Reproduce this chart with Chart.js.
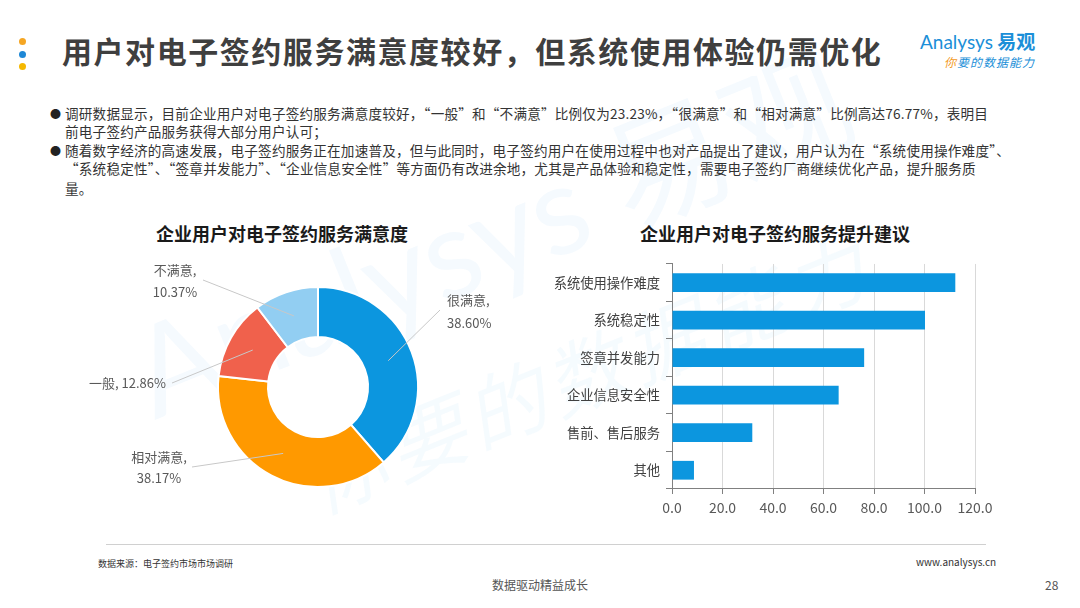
<!DOCTYPE html>
<html>
<head>
<meta charset="utf-8">
<script src="https://cdn.jsdelivr.net/npm/chart.js@4.4.1/dist/chart.umd.min.js"></script>
<style>
  html, body { margin: 0; padding: 0; background: #fff; }
  body { width: 1080px; height: 608px; position: relative; overflow: hidden;
         font-family: "Noto Sans CJK SC", "Noto Sans", sans-serif; color: #333; }
  .abs { position: absolute; white-space: nowrap; }
  .dot { position: absolute; width: 7px; height: 7px; border-radius: 50%; left: 19px; }
  #title { left: 62px; top: 30px; font-size: 30px; font-weight: bold; color: #3f3f3f; letter-spacing: 1.55px; line-height: 40px; }
  .logo1 { left: 920px; top: 28px; font-size: 19px; color: #1b8fd8; line-height: 26px; }
  .logo2 { left: 944px; top: 53px; font-size: 12px; color: #1b8fd8; font-style: italic; letter-spacing: 1px; line-height: 18px; }
  .body { left: 65px; font-size: 13.6px; color: #333; line-height: 19px; letter-spacing: 0.2px; }
  .bullet { left: 50px; font-size: 11px; color: #222; line-height: 19px; }
  .ctitle { font-size: 18px; font-weight: bold; color: #1a1a1a; transform: translateX(-50%); line-height: 24px; }
  #wm { left: 110px; top: 310px; font-size: 125px; color: rgba(12,150,223,0.045);
        transform: rotate(-22deg); transform-origin: left top; line-height: 130px; font-family: Lato, sans-serif; }
  #wm2 { left: 290px; top: 440px; font-size: 80px; color: rgba(12,150,223,0.04);
        transform: rotate(-22deg); transform-origin: left top; line-height: 90px; font-style: italic; letter-spacing: 6px; }
  .foot { font-size: 9px; color: #333; }
</style>
</head>
<body>
<div id="wm" class="abs">Analysys <span style="font-family:'Noto Sans CJK SC'">易观</span></div>
<div id="wm2" class="abs">你要的数据能力</div>

<div class="dot" style="top:38px;background:#f5a623"></div>
<div class="dot" style="top:51px;background:#1e88d6"></div>
<div class="dot" style="top:63px;background:#f5b800"></div>
<div id="title" class="abs">用户对电子签约服务满意度较好，但系统使用体验仍需优化</div>
<div class="abs logo1"><span style="font-family:Lato,sans-serif">Analysys</span> <b>易观</b></div>
<div class="abs logo2"><span style="color:#f39a1e">你</span>要的数据能力</div>

<div class="abs bullet" style="top:104px">●</div>
<div class="abs body" style="top:104px">调研数据显示，目前企业用户对电子签约服务满意度较好，“一般”和“不满意”比例仅为23.23%，“很满意”和“相对满意”比例高达76.77%，表明目</div>
<div class="abs body" style="top:122px">前电子签约产品服务获得大部分用户认可；</div>
<div class="abs bullet" style="top:141px">●</div>
<div class="abs body" style="top:141px">随着数字经济的高速发展，电子签约服务正在加速普及，但与此同时，电子签约用户在使用过程中也对产品提出了建议，用户认为在“系统使用操作难度”、</div>
<div class="abs body" style="top:159px">“系统稳定性”、“签章并发能力”、“企业信息安全性”等方面仍有改进余地，尤其是产品体验和稳定性，需要电子签约厂商继续优化产品，提升服务质</div>
<div class="abs body" style="top:179px">量。</div>

<div class="abs ctitle" style="left:282px;top:221px">企业用户对电子签约服务满意度</div>
<div class="abs ctitle" style="left:775px;top:221px">企业用户对电子签约服务提升建议</div>

<div class="abs" style="left:60px;top:255px;width:470px;height:260px"><canvas id="pie"></canvas></div>
<div class="abs" style="left:530px;top:250px;width:480px;height:270px"><canvas id="bar"></canvas></div>

<div class="abs" style="left:106px;top:544px;width:880px;height:1px;background:#d0d0d0"></div>
<div class="abs foot" style="left:98px;top:557px">数据来源：电子签约市场市场调研</div>
<div class="abs foot" style="left:916px;top:554px;font-size:10px">www.analysys.cn</div>
<div class="abs" style="left:540px;top:576px;transform:translateX(-50%);font-size:12px;color:#555">数据驱动精益成长</div>
<div class="abs" style="left:1045px;top:576px;font-size:12px;color:#555">28</div>

<script>
// 满意度
var satisfaction = ['很满意', '相对满意', '一般', '不满意'];
var satisfactionShare = [38.60, 38.17, 12.86, 10.37];
var pieColors = ['#0c96df', '#ff9900', '#f0614c', '#92cef2'];

// 提升建议
var suggestions = ['系统使用操作难度', '系统稳定性', '签章并发能力', '企业信息安全性', '售前、售后服务', '其他'];
var suggestionValues = [112.2, 100.2, 76.1, 66.0, 31.8, 8.7];
var xTicks = [0, 20, 40, 60, 80, 100, 120];

// 标签位置（相对圆心的偏移）
var labelLayout = [
    { ex: 122, ey: -77, tx: 129, ty: [-87, -64], align: 'left' },
    { ex: -126, ey: 80, tx: -159, ty: [70, 91], align: 'center' },
    { ex: -146, ey: -4, tx: -152, ty: [-4], align: 'right' },
    { ex: -115, ey: -107, tx: -143, ty: [-117, -95], align: 'center' }
];

var FONT = '"Noto Sans CJK SC", sans-serif';

var pieLabels = {
    id: 'pieLabels',
    afterDatasetsDraw: function(chart) {
        var ctx = chart.ctx;
        var meta = chart.getDatasetMeta(0);
        meta.data.forEach(function(arc, i) {
            var mid = (arc.startAngle + arc.endAngle) / 2;
            var r = (arc.innerRadius + arc.outerRadius) / 2;
            var L = labelLayout[i];
            ctx.save();
            ctx.strokeStyle = '#c8c8c8';
            ctx.lineWidth = 1;
            ctx.beginPath();
            ctx.moveTo(arc.x + Math.cos(mid) * r, arc.y + Math.sin(mid) * r);
            ctx.lineTo(arc.x + L.ex, arc.y + L.ey);
            ctx.stroke();
            ctx.fillStyle = '#595959';
            ctx.font = '13px ' + FONT;
            ctx.textAlign = L.align;
            ctx.textBaseline = 'middle';
            var pct = satisfactionShare[i].toFixed(2) + '%';
            var lines = L.ty.length === 1 ? [satisfaction[i] + ', ' + pct] : [satisfaction[i] + ',', pct];
            lines.forEach(function(t, k) {
                ctx.fillText(t, arc.x + L.tx, arc.y + L.ty[k]);
            });
            ctx.restore();
        });
    }
};

new Chart(document.getElementById('pie'), {
    type: 'doughnut',
    data: {
        labels: satisfaction,
        datasets: [{
            data: satisfactionShare,
            backgroundColor: pieColors,
            borderColor: '#ffffff',
            borderWidth: 2
        }]
    },
    options: {
        responsive: true,
        maintainAspectRatio: false,
        animation: false,
        cutout: '50%',
        layout: { padding: { left: 157, right: 111, top: 31, bottom: 27 } },
        plugins: { legend: { display: false }, tooltip: { enabled: false } }
    },
    plugins: [pieLabels]
});

new Chart(document.getElementById('bar'), {
    type: 'bar',
    data: {
        labels: suggestions,
        datasets: [{
            data: suggestionValues,
            backgroundColor: '#0c96df',
            barPercentage: 0.5,
            categoryPercentage: 1
        }]
    },
    options: {
        indexAxis: 'y',
        responsive: true,
        maintainAspectRatio: false,
        animation: false,
        layout: { padding: { top: 12, right: 35, bottom: 0, left: 0 } },
        plugins: { legend: { display: false }, tooltip: { enabled: false } },
        scales: {
            x: {
                min: xTicks[0],
                max: xTicks[xTicks.length - 1],
                afterBuildTicks: function(s) { s.ticks = xTicks.map(function(v) { return { value: v }; }); },
                ticks: {
                    padding: 5,
                    color: '#595959',
                    font: { size: 14, family: FONT },
                    callback: function(v) { return Number(v).toFixed(1); }
                },
                grid: { color: '#d9d9d9', tickColor: '#808080', tickLength: 5 },
                border: { color: '#808080' },
                afterFit: function(s) { s.height = 31; }
            },
            y: {
                ticks: { color: '#404040', font: { size: 13.3, family: FONT }, padding: 6 },
                grid: { drawOnChartArea: false, color: '#808080', tickLength: 6, offset: true },
                border: { color: '#808080' },
                afterFit: function(s) { s.width = 142; }
            }
        }
    }
});
</script>
</body>
</html>
